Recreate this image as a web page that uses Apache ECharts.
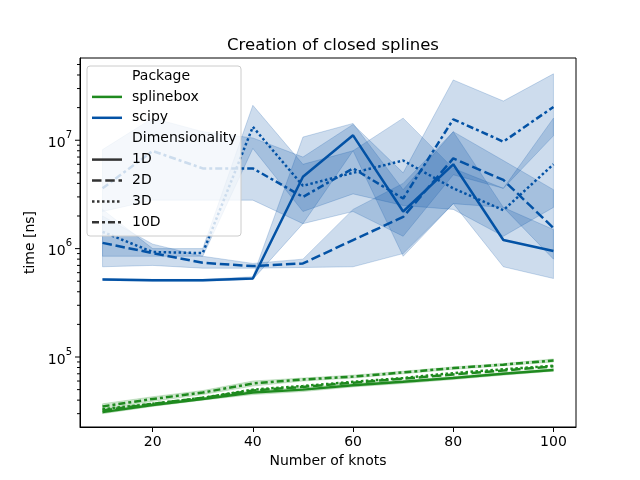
<!DOCTYPE html>
<html>
<head>
<meta charset="utf-8">
<script src="https://cdn.jsdelivr.net/npm/echarts@6/dist/echarts.min.js"></script>
<style>
  html, body { margin: 0; padding: 0; background: #fff; }
  #chart { width: 640px; height: 480px; }
</style>
</head>
<body>
<div id="chart"></div>
<script>
// number of knots on the x axis
const knots = [10, 20, 30, 40, 50, 60, 70, 80, 90, 100];
const xTicks = [20, 40, 60, 80, 100];
const yMajor = [1e5, 1e6, 1e7];
const yMinor = [3e4, 4e4, 5e4, 6e4, 7e4, 8e4, 9e4,
  2e5, 3e5, 4e5, 5e5, 6e5, 7e5, 8e5, 9e5,
  2e6, 3e6, 4e6, 5e6, 6e6, 7e6, 8e6, 9e6,
  2e7, 3e7, 4e7, 5e7];

// splinebox timings (ns)
const sb1D = [3.1e4, 3.6e4, 4.1e4, 4.7e4, 5.0e4, 5.5e4, 5.9e4, 6.4e4, 7.0e4, 7.6e4];
const sb2D = [3.2e4, 3.7e4, 4.2e4, 4.9e4, 5.3e4, 5.8e4, 6.3e4, 6.9e4, 7.5e4, 8.2e4];
const sb3D = [3.3e4, 3.7e4, 4.2e4, 5.0e4, 5.4e4, 5.9e4, 6.4e4, 7.1e4, 7.7e4, 8.3e4];
const sb10D = [3.5e4, 4.1e4, 4.7e4, 5.7e4, 6.2e4, 6.6e4, 7.2e4, 7.9e4, 8.5e4, 9.3e4];

// scipy timings (ns)
const sp1D = [5.2e5, 5.1e5, 5.1e5, 5.3e5, 4.6e6, 1.11e7, 2.2e6, 6.0e6, 1.2e6, 9.5e5];
const sp2D = [1.13e6, 9.1e5, 7.4e5, 6.9e5, 7.3e5, 1.2e6, 1.96e6, 6.8e6, 4.3e6, 1.55e6];
const sp3D = [1.43e6, 9.3e5, 9.1e5, 1.33e7, 3.8e6, 5.0e6, 6.5e6, 3.6e6, 2.26e6, 6.0e6];
const sp10D = [3.6e6, 7.96e6, 5.5e6, 5.5e6, 3.0e6, 5.5e6, 2.9e6, 1.56e7, 9.7e6, 2.03e7];

// scipy confidence bands
const sp1DLo = [5.1e5, 5.0e5, 5.0e5, 5.2e5, 1.7e6, 8.0e6, 8.5e5, 2.6e6, 6.8e5, 5.3e5];
const sp1DHi = [5.3e5, 5.2e5, 5.2e5, 5.5e5, 1.07e7, 1.43e7, 3.5e6, 1.2e7, 2.4e6, 1.5e6];
const sp2DLo = [6.8e5, 7.0e5, 6.6e5, 6.6e5, 6.7e5, 6.8e5, 9.0e5, 2.6e6, 2.4e6, 8.0e5];
const sp2DHi = [2.0e6, 1.1e6, 8.5e5, 7.3e5, 8.0e5, 2.3e6, 4.0e6, 1.2e7, 6.5e6, 3.5e6];
const sp3DLo = [8.5e5, 8.5e5, 8.5e5, 8.4e6, 2.2e6, 3.2e6, 2.5e6, 2.3e6, 1.3e6, 2.4e6];
const sp3DHi = [2.3e6, 1.0e6, 1.0e6, 2.1e7, 6.0e6, 8.0e6, 1.6e7, 5.5e6, 3.6e6, 1.6e7];
const sp10DLo = [2.2e6, 2.8e6, 2.8e6, 2.8e6, 1.7e6, 2.2e6, 1.3e6, 4.8e6, 3.6e6, 1.1e7];
const sp10DHi = [8.2e6, 1.6e7, 1.2e7, 1.05e7, 7.0e6, 1.4e7, 5.0e6, 3.6e7, 2.3e7, 4.1e7];

// splinebox bands (narrow)
const sb1DLo = [3.0e4, 3.5e4, 4.0e4, 4.5e4, 4.8e4, 5.3e4, 5.7e4, 6.2e4, 6.8e4, 7.4e4];
const sb1DHi = [3.3e4, 3.7e4, 4.2e4, 4.9e4, 5.2e4, 5.7e4, 6.1e4, 6.6e4, 7.2e4, 7.8e4];
const sb10DLo = [3.3e4, 3.9e4, 4.5e4, 5.4e4, 6.0e4, 6.4e4, 7.0e4, 7.7e4, 8.3e4, 9.0e4];
const sb10DHi = [3.7e4, 4.3e4, 4.9e4, 6.0e4, 6.4e4, 6.8e4, 7.4e4, 8.1e4, 8.7e4, 9.6e4];

const GREEN = "#1f8a1f";
const BLUE = "#0352a5";
const FONT = "DejaVu Sans";
const LW = 2.5;

const dashes = {
  "1D": "solid",
  "2D": [9.5, 3.75],
  "3D": [2.5, 2.5],
  "10D": [7, 3, 3, 3]
};

function lineSeries(name, values, color, dim) {
  return {
    name: name,
    type: "line",
    z: 3,
    showSymbol: false,
    silent: true,
    data: knots.map((k, i) => [k, values[i]]),
    lineStyle: { color: color, width: LW, type: dashes[dim] },
    itemStyle: { color: color }
  };
}

function bandSeries(lo, hi, fill, stroke) {
  return {
    type: "custom",
    z: 2,
    silent: true,
    data: knots.map((k, i) => [k, lo[i], hi[i]]),
    renderItem: function (params, api) {
      if (params.dataIndex !== 0) return null;
      const pts = [];
      for (let i = 0; i < knots.length; i++) pts.push(api.coord([knots[i], lo[i]]));
      for (let i = knots.length - 1; i >= 0; i--) pts.push(api.coord([knots[i], hi[i]]));
      return {
        type: "polygon",
        shape: { points: pts },
        style: { fill: fill, stroke: stroke, lineWidth: 1 }
      };
    }
  };
}

// y ticks (major + minor) drawn through the log scale
function yTickSeries(values, len) {
  return {
    type: "custom",
    silent: true,
    clip: false,
    z: 4,
    data: values.map(v => [10, v]),
    renderItem: function (params, api) {
      const p = api.coord([10, api.value(1)]);
      const x0 = params.coordSys.x;
      return {
        type: "line",
        shape: { x1: x0 - len, y1: p[1], x2: x0, y2: p[1] },
        style: { stroke: "#000", lineWidth: 1 }
      };
    }
  };
}

const blueFill = "rgba(3,82,165,0.2)";
const greenFill = "rgba(31,138,31,0.2)";

const series = [
  bandSeries(sp1DLo, sp1DHi, blueFill, blueFill),
  bandSeries(sp2DLo, sp2DHi, blueFill, blueFill),
  bandSeries(sp3DLo, sp3DHi, blueFill, blueFill),
  bandSeries(sp10DLo, sp10DHi, blueFill, blueFill),
  bandSeries(sb1DLo, sb1DHi, greenFill, greenFill),
  bandSeries(sb10DLo, sb10DHi, greenFill, greenFill),
  lineSeries("splinebox 1D", sb1D, GREEN, "1D"),
  lineSeries("splinebox 2D", sb2D, GREEN, "2D"),
  lineSeries("splinebox 3D", sb3D, GREEN, "3D"),
  lineSeries("splinebox 10D", sb10D, GREEN, "10D"),
  lineSeries("scipy 1D", sp1D, BLUE, "1D"),
  lineSeries("scipy 2D", sp2D, BLUE, "2D"),
  lineSeries("scipy 3D", sp3D, BLUE, "3D"),
  lineSeries("scipy 10D", sp10D, BLUE, "10D"),
  yTickSeries(yMajor, 5),
  yTickSeries(yMinor, 3)
];

// legend drawn as a box like matplotlib's
const legendRows = [
  { label: "Package" },
  { label: "splinebox", color: GREEN, dash: "solid" },
  { label: "scipy", color: BLUE, dash: "solid" },
  { label: "Dimensionality" },
  { label: "1D", color: "#333", dash: "solid" },
  { label: "2D", color: "#333", dash: [9.5, 3.75] },
  { label: "3D", color: "#333", dash: [2.5, 2.5] },
  { label: "10D", color: "#333", dash: [7, 3, 3, 3] }
];
const legendEls = [{
  type: "rect",
  z: 100,
  shape: { x: 87, y: 66, width: 154, height: 170, r: 3 },
  style: { fill: "rgba(255,255,255,0.8)", stroke: "#cccccc", lineWidth: 1 }
}];
legendRows.forEach((r, i) => {
  const y = 76 + i * 20.9;
  if (r.color) {
    legendEls.push({
      type: "line",
      z: 101,
      shape: { x1: 92, y1: y, x2: 122, y2: y },
      style: { stroke: r.color, lineWidth: LW, lineDash: r.dash === "solid" ? null : r.dash }
    });
  }
  legendEls.push({
    type: "text",
    z: 101,
    x: 132, y: y,
    style: { text: r.label, font: "14px '" + FONT + "'", fill: "#000", textVerticalAlign: "middle" }
  });
});

const chart = echarts.init(document.getElementById("chart"));
chart.setOption({
  backgroundColor: "#fff",
  animation: false,
  textStyle: { fontFamily: FONT },
  title: {
    text: "Creation of closed splines",
    left: 328,
    top: 32,
    textAlign: "center",
    textStyle: { fontFamily: FONT, fontSize: 16.5, fontWeight: "normal", color: "#000" }
  },
  grid: {
    left: 80, right: 64, top: 58, bottom: 53,
    show: true, borderColor: "#000", borderWidth: 1
  },
  xAxis: {
    type: "value",
    min: 5.5,
    max: 104.5,
    name: "Number of knots",
    nameLocation: "middle",
    nameGap: 27,
    nameTextStyle: { fontFamily: FONT, fontSize: 14, color: "#000" },
    axisLine: { show: true, lineStyle: { color: "#000" } },
    axisTick: { show: true, length: 5, customValues: xTicks, lineStyle: { color: "#000" } },
    axisLabel: { customValues: xTicks, margin: 8, fontFamily: FONT, fontSize: 14, color: "#000" },
    splitLine: { show: false }
  },
  yAxis: {
    type: "log",
    logBase: 10,
    min: 22600,
    max: 5.74e7,
    name: "time [ns]",
    nameLocation: "middle",
    nameGap: 40,
    nameTextStyle: { fontFamily: FONT, fontSize: 14, color: "#000" },
    axisLine: { show: true, lineStyle: { color: "#000" } },
    axisTick: { show: false },
    axisLabel: {
      margin: 8,
      color: "#000",
      formatter: function (v) {
        const e = Math.log10(v);
        if (Math.abs(e - Math.round(e)) < 1e-6) return "{b|10}{s|" + Math.round(e) + "}";
        return "";
      },
      rich: {
        b: { fontFamily: FONT, fontSize: 14, color: "#000", lineHeight: 20, verticalAlign: "bottom" },
        s: { fontFamily: FONT, fontSize: 10, color: "#000", lineHeight: 20, verticalAlign: "top" }
      }
    },
    splitLine: { show: false }
  },
  graphic: { elements: [{ type: "group", z: 100, children: legendEls }] },
  series: series
});
</script>
</body>
</html>
